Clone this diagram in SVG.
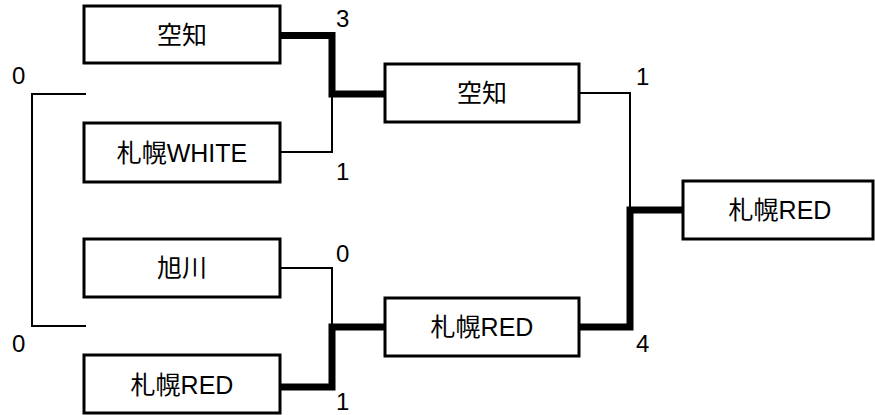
<svg xmlns="http://www.w3.org/2000/svg" width="875" height="415" viewBox="0 0 875 415">
<style>
.box{fill:#fff;stroke:#000;stroke-width:3}
.t{font-family:"Liberation Sans","Noto Sans CJK JP",sans-serif;font-size:25px;text-anchor:middle;fill:#000}
.s{font-family:"Liberation Sans",Arial,sans-serif;font-size:24px;fill:#000}
.thin{fill:none;stroke:#000;stroke-width:2}
.thick{fill:none;stroke:#000;stroke-width:7}
</style>
<rect width="875" height="415" fill="#fff"/>
<g id="connectors">
<polyline class="thin" points="86,94 32,94 32,326 86,326"/>
<polyline class="thin" points="280,152 332,152 332,94"/>
<polyline class="thick" points="280,35.5 332,35.5 332,94 385,94"/>
<polyline class="thin" points="280,268 332,268 332,327"/>
<polyline class="thick" points="280,387 332,387 332,327 385,327"/>
<polyline class="thin" points="579,93 630,93 630,210"/>
<polyline class="thick" points="579,327 630,327 630,210 683,210"/>
</g>
<g id="scores">
<text class="s" x="12" y="84">0</text>
<text class="s" x="12" y="352">0</text>
<text class="s" x="336" y="27">3</text>
<text class="s" x="336" y="180">1</text>
<text class="s" x="336" y="262">0</text>
<text class="s" x="336" y="410">1</text>
<text class="s" x="636" y="85">1</text>
<text class="s" x="636" y="352">4</text>
</g>
<g id="n1"><rect class="box" x="84" y="6" width="196" height="57"/><text class="t" x="182" y="44">空知</text></g>
<g id="n2"><rect class="box" x="84" y="123" width="196" height="59"/><text class="t" x="182" y="162">札幌WHITE</text></g>
<g id="n3"><rect class="box" x="84" y="239" width="196" height="58"/><text class="t" x="182" y="277">旭川</text></g>
<g id="n4"><rect class="box" x="84" y="355" width="196" height="58"/><text class="t" x="182" y="394">札幌RED</text></g>
<g id="n5"><rect class="box" x="385" y="64" width="194" height="58"/><text class="t" x="482" y="102">空知</text></g>
<g id="n6"><rect class="box" x="385" y="298" width="194" height="58"/><text class="t" x="482" y="336">札幌RED</text></g>
<g id="n7"><rect class="box" x="683" y="181" width="190" height="58"/><text class="t" x="780" y="219">札幌RED</text></g>
</svg>
